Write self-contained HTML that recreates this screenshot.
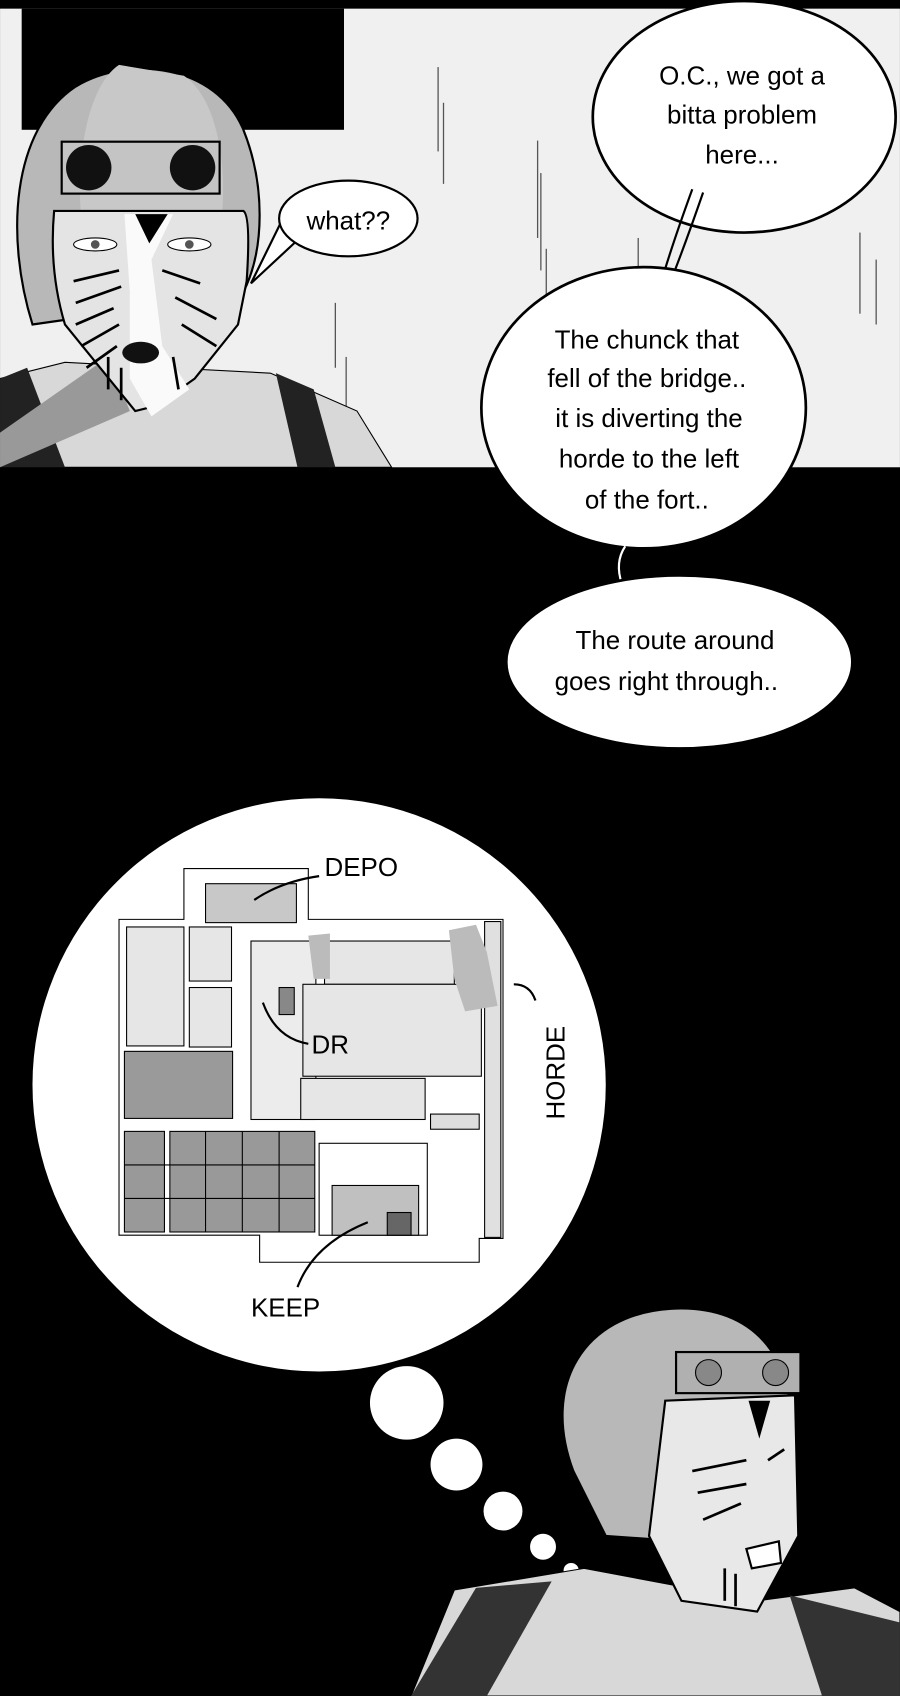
<!DOCTYPE html>
<html><head><meta charset="utf-8"><style>
html,body{margin:0;padding:0;background:#000;width:900px;height:1696px;overflow:hidden}
svg{display:block}
text{font-family:"Comic Sans MS","Liberation Sans",sans-serif;fill:#000}
</style></head><body>
<svg width="900" height="1696" viewBox="0 0 832 1568" xmlns="http://www.w3.org/2000/svg">
<rect width="832" height="1568" fill="#000"/>
<!-- top panel -->
<rect x="0" y="8" width="832" height="424" fill="#f0f0f0"/>
<rect x="20" y="8" width="298" height="112" fill="#000"/>
<g stroke="#555" stroke-width="1.2">
<line x1="405" y1="62" x2="405" y2="140"/><line x1="410" y1="95" x2="410" y2="170"/>
<line x1="497" y1="130" x2="497" y2="220"/><line x1="500" y1="160" x2="500" y2="250"/>
<line x1="505" y1="230" x2="505" y2="320"/><line x1="310" y1="280" x2="310" y2="340"/>
<line x1="320" y1="330" x2="320" y2="400"/><line x1="795" y1="215" x2="795" y2="290"/>
<line x1="810" y1="240" x2="810" y2="300"/><line x1="590" y1="220" x2="590" y2="250"/>
</g>
<!-- body -->
<path d="M0 350 L60 335 L250 345 L330 380 L362 432 L0 432Z" fill="#d8d8d8" stroke="#000"/>
<path d="M0 350 L25 340 L60 432 L0 432Z" fill="#222"/>
<path d="M255 345 L290 360 L310 432 L275 432Z" fill="#222"/>
<path d="M0 432 L0 400 L100 330 L120 380 Z" fill="#999"/>
<!-- helmet -->
<path d="M30 300 C5 220 10 120 70 80 C120 50 200 60 225 120 C245 170 245 230 225 270 L205 275 Z" fill="#b8b8b8" stroke="#000" stroke-width="2"/>
<path d="M110 60 C80 80 70 150 75 200 L205 200 C210 150 200 90 170 70 Z" fill="#c8c8c8"/>
<rect x="57" y="131" width="146" height="48" fill="#c4c4c4" stroke="#000" stroke-width="2"/>
<ellipse cx="82" cy="155" rx="21" ry="21" fill="#111"/>
<ellipse cx="178" cy="155" rx="21" ry="21" fill="#111"/>
<!-- face -->
<path d="M50 195 L225 195 Q232 200 228 260 L220 300 L180 350 L145 375 L125 380 L60 300 Q45 250 50 195Z" fill="#e4e4e4" stroke="#000" stroke-width="2"/>
<path d="M115 198 L160 198 L140 240 L150 320 L175 360 L140 385 L120 350 L120 270 Z" fill="#fafafa"/>
<path d="M125 198 L155 198 L138 225Z" fill="#000"/>
<ellipse cx="88" cy="226" rx="20" ry="6" fill="#fff" stroke="#000"/><circle cx="88" cy="226" r="4" fill="#555"/>
<ellipse cx="175" cy="226" rx="20" ry="6" fill="#fff" stroke="#000"/><circle cx="175" cy="226" r="4" fill="#555"/>
<g stroke="#000" stroke-width="2.5" fill="none">
<path d="M68 260 L110 250"/><path d="M70 280 L112 265"/><path d="M70 300 L105 285"/><path d="M75 320 L110 300"/><path d="M80 340 L108 320"/>
<path d="M150 250 L185 262"/><path d="M162 275 L200 295"/><path d="M168 300 L200 320"/>
<path d="M100 330 L100 360"/><path d="M112 340 L112 370"/><path d="M160 330 L165 360"/>
</g>
<ellipse cx="130" cy="326" rx="17" ry="10" fill="#111"/>
<!-- what bubble -->
<path d="M260 205 L232 262 L275 222" fill="#fff" stroke="#000" stroke-width="2"/>
<ellipse cx="322" cy="202" rx="64" ry="35" fill="#fff" stroke="#000" stroke-width="2"/>
<text x="322" y="212" font-size="24" text-anchor="middle">what??</text>
<!-- bubble 1 -->
<ellipse cx="688" cy="108" rx="140" ry="107" fill="#fff" stroke="#000" stroke-width="2.5"/>
<path d="M640 175 Q620 230 610 265 M650 178 Q632 230 618 265" stroke="#000" stroke-width="2" fill="none"/>
<text x="686" y="78" font-size="24" text-anchor="middle">O.C., we got a</text>
<text x="686" y="114" font-size="24" text-anchor="middle">bitta problem</text>
<text x="686" y="151" font-size="24" text-anchor="middle">here...</text>
<!-- bubble 2 -->
<ellipse cx="595" cy="377" rx="150" ry="130" fill="#fff" stroke="#000" stroke-width="2.5"/>
<text x="598" y="322" font-size="24" text-anchor="middle">The chunck that</text>
<text x="598" y="358" font-size="24" text-anchor="middle">fell of the bridge..</text>
<text x="600" y="395" font-size="24" text-anchor="middle">it is diverting the</text>
<text x="600" y="432" font-size="24" text-anchor="middle">horde to the left</text>
<text x="598" y="470" font-size="24" text-anchor="middle">of the fort..</text>
<path d="M578 505 Q568 520 575 540" stroke="#fff" stroke-width="2" fill="none"/>
<!-- bubble 3 -->
<ellipse cx="628" cy="612" rx="160" ry="80" fill="#fff" stroke="#000" stroke-width="2.5"/>
<text x="624" y="600" font-size="24" text-anchor="middle">The route around</text>
<text x="616" y="638" font-size="24" text-anchor="middle">goes right through..</text>
<!-- map circle -->
<circle cx="295" cy="1003" r="265" fill="#fff"/>
<g stroke="#000" stroke-width="1" fill="#fff">
<path d="M110 850 L170 850 L170 803 L285 803 L285 850 L465 850 L465 1145 L443 1145 L443 1167 L240 1167 L240 1142 L110 1142Z"/>
<rect x="190" y="817" width="84" height="36" fill="#c8c8c8"/>
<rect x="117" y="857" width="53" height="110" fill="#e6e6e6"/>
<rect x="175" y="857" width="39" height="50" fill="#e6e6e6"/>
<rect x="175" y="913" width="39" height="55" fill="#e6e6e6"/>
<rect x="115" y="972" width="100" height="62" fill="#9a9a9a"/>
<rect x="232" y="870" width="60" height="165" fill="#ececec"/>
<rect x="300" y="870" width="120" height="40" fill="#e6e6e6"/>
<rect x="280" y="910" width="165" height="85" fill="#e6e6e6"/>
<rect x="278" y="997" width="115" height="38" fill="#e6e6e6"/>
<rect x="258" y="913" width="14" height="25" fill="#888"/>
<rect x="398" y="1030" width="45" height="14" fill="#ddd"/>
<rect x="448" y="852" width="15" height="292" fill="#e0e0e0"/>
<rect x="295" y="1057" width="100" height="85" fill="#fff"/>
<rect x="307" y="1096" width="80" height="46" fill="#c0c0c0"/>
<rect x="358" y="1121" width="22" height="21" fill="#666"/>
</g>
<g fill="#999" stroke="#000" stroke-width="1">
<rect x="115" y="1046" width="37" height="93"/>
<rect x="157" y="1046" width="134" height="93"/>
</g>
<g stroke="#000" stroke-width="1">
<line x1="190" y1="1046" x2="190" y2="1139"/><line x1="224" y1="1046" x2="224" y2="1139"/><line x1="258" y1="1046" x2="258" y2="1139"/>
<line x1="115" y1="1077" x2="291" y2="1077"/><line x1="115" y1="1108" x2="291" y2="1108"/>
</g>
<path d="M415 860 L440 855 L450 880 L460 930 L430 935 L420 905Z" fill="#bbb"/>
<path d="M285 865 L305 863 L305 905 L290 905Z" fill="#bbb"/>
<text x="300" y="810" font-size="24">DEPO</text>
<path d="M295 810 Q260 815 235 832" stroke="#000" stroke-width="2" fill="none"/>
<text x="288" y="974" font-size="24">DR</text>
<path d="M285 965 Q255 960 243 927" stroke="#000" stroke-width="2" fill="none"/>
<text x="232" y="1217" font-size="24">KEEP</text>
<path d="M275 1190 Q290 1150 340 1130" stroke="#000" stroke-width="2" fill="none"/>
<text x="522" y="1035" font-size="24" transform="rotate(-90 522 1035)">HORDE</text>
<path d="M495 925 Q490 910 475 910" stroke="#000" stroke-width="2" fill="none"/>
<!-- thought bubbles -->
<circle cx="376" cy="1297" r="34" fill="#fff"/>
<circle cx="422" cy="1354" r="24" fill="#fff"/>
<circle cx="465" cy="1397" r="18" fill="#fff"/>
<circle cx="502" cy="1430" r="12" fill="#fff"/>
<circle cx="528" cy="1452" r="7" fill="#fff"/>
<!-- bottom character -->
<path d="M380 1568 L420 1470 L540 1450 L700 1480 L790 1468 L832 1490 L832 1568Z" fill="#d8d8d8" stroke="#000"/>
<path d="M380 1568 L440 1468 L510 1462 L450 1568Z" fill="#333"/>
<path d="M730 1475 L832 1500 L832 1568 L760 1568Z" fill="#333"/>
<path d="M530 1360 C500 1280 540 1215 620 1210 C700 1205 740 1260 730 1340 L700 1430 L560 1420Z" fill="#b8b8b8" stroke="#000" stroke-width="2"/>
<rect x="625" y="1250" width="115" height="38" fill="#b0b0b0" stroke="#000" stroke-width="2"/>
<circle cx="655" cy="1269" r="12" fill="#888" stroke="#000"/>
<circle cx="717" cy="1269" r="12" fill="#888" stroke="#000"/>
<path d="M615 1295 L735 1290 L738 1420 L700 1490 L630 1480 L600 1420 Z" fill="#e8e8e8" stroke="#000" stroke-width="2"/>
<path d="M692 1295 L712 1295 L702 1330Z" fill="#000"/>
<g stroke="#000" stroke-width="2.5" fill="none">
<path d="M640 1360 L690 1350"/><path d="M645 1380 L690 1372"/><path d="M650 1405 L685 1390"/>
<path d="M710 1350 L725 1340"/><path d="M670 1450 L670 1480"/><path d="M680 1455 L680 1485"/>
</g>
<path d="M690 1432 L720 1425 L722 1445 L695 1450Z" fill="#fff" stroke="#000" stroke-width="2"/>
</svg>
</body></html>
